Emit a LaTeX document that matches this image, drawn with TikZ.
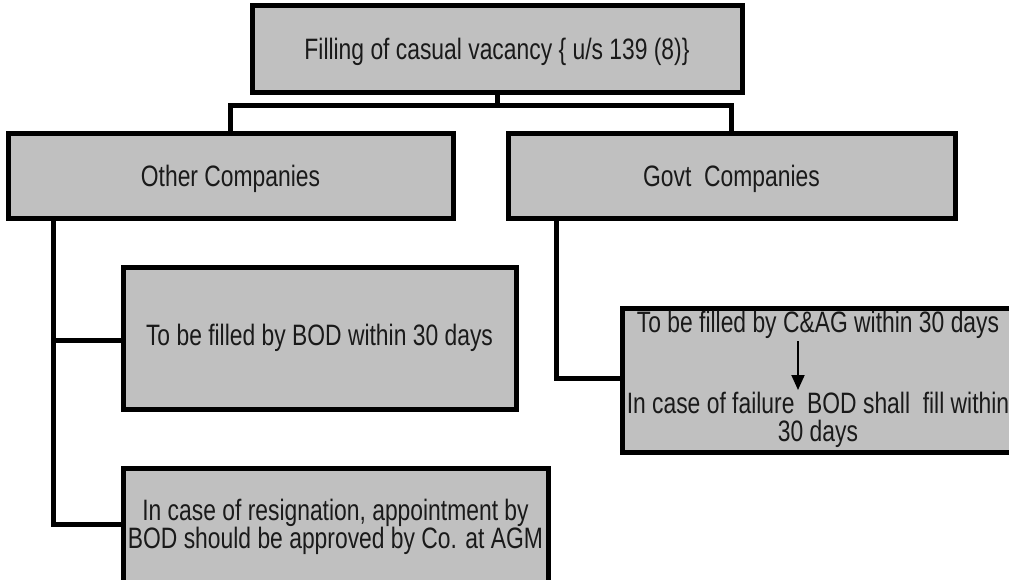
\documentclass[tikz,border=0pt]{standalone}
\usepackage{fontspec}
\setmainfont{Liberation Sans}[FakeStretch=0.775]
\usetikzlibrary{arrows.meta}
\definecolor{boxgray}{HTML}{C0C0C0}
\definecolor{textgray}{HTML}{1A1A1A}
\begin{document}
\begin{tikzpicture}[x=1pt,y=-1pt,
  box/.style={draw=black, fill=boxgray, line width=5pt, rectangle, outer sep=0pt,
              inner sep=0pt, text=textgray, align=center,
              font=\fontsize{29.5}{28}\selectfont},
  txt/.style={text=textgray, inner sep=0pt, align=center,
              font=\fontsize{29.5}{28}\selectfont},
  conn/.style={draw=black, line width=5pt, line join=miter},
  flow/.style={draw=black, line width=2pt, -{Triangle[width=13pt,length=15pt]}}]
\clip (0,0) rectangle (1009,579);
% boxes
\node[box, minimum width=490pt, minimum height=87pt, text depth=0pt] (top) at (497,48.5)
  {Filling of casual vacancy \{ u/s 139 (8)\}};
\node[box, minimum width=445pt, minimum height=85pt, text depth=0pt] (other) at (230.5,175.5)
  {Other Companies};
\node[box, minimum width=447pt, minimum height=85pt, text depth=0pt] (govt) at (731.5,175.5)
  {Govt\ \ Companies};
\node[box, minimum width=393pt, minimum height=142pt] (mid) at (319.5,338)
  {To be filled by BOD within 30 days};
\node[box, minimum width=425pt, minimum height=118pt] (bottom) at (335.5,527)
  {In case of resignation, appointment by\\BOD should be approved by Co. at AGM};
\node[box, minimum width=392pt, minimum height=144pt] (cag) at (818,380) {};
\node[txt] (c1) at (818,324.5) {To be filled by C\&AG within 30 days};
\node[txt] (c2) at (818,420) {In case of failure\ \ BOD shall\ \ fill within\\30 days};
% connectors
\coordinate (bus) at (497,105);
\draw[conn] (top.south) -- (bus);
\draw[conn] (other.north) |- (bus) -| (govt.north);
\coordinate (lend) at (53,524);
\coordinate (lmid) at (53,340);
\draw[conn] (other.south -| lend) -- (lend) -- (lend -| bottom.west);
\draw[conn] (lmid) -- (lmid -| mid.west);
\coordinate (gcorner) at (556,378);
\draw[conn] (govt.south -| gcorner) -- (gcorner) -- (gcorner -| cag.west);
% arrow inside C&AG box
\coordinate (as) at (798,341);
\coordinate (ae) at (798,390);
\draw[flow] (as) -- (ae);
\end{tikzpicture}
\end{document}
